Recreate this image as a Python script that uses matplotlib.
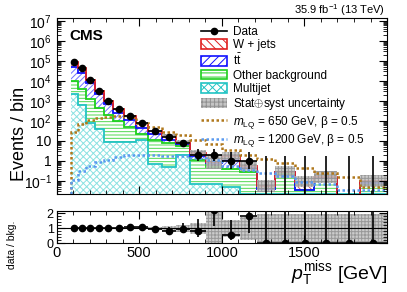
import matplotlib
matplotlib.use("Agg")
import matplotlib.pyplot as plt
import matplotlib.patches as mpatches
from matplotlib.lines import Line2D
from matplotlib.ticker import FixedLocator, MultipleLocator, NullFormatter, FuncFormatter
import numpy as np

plt.rcParams['font.family'] = ['Liberation Sans', 'DejaVu Sans']
plt.rcParams['mathtext.fontset'] = 'custom'
plt.rcParams['mathtext.rm'] = 'Liberation Sans'
plt.rcParams['mathtext.it'] = 'Liberation Sans:italic'
plt.rcParams['mathtext.bf'] = 'Liberation Sans:bold'
plt.rcParams['hatch.linewidth'] = 0.7

# Data
edges = [85, 130, 180, 230, 285, 340, 410, 480, 555, 635, 720, 810, 905, 1000,
         1110, 1215, 1320, 1445, 1560, 1700, 1835, 2000]
data = [86000, 43000, 10800, 3200, 1000, 400, 178, 76, 32, 15, 8, 2, 2, 1, 1,
        0, 0, 0, 0, 0, 0]
multijet = [2300, 600, 80, 38, 9, 9, 9, 11, 0.7, 0.5, 2.0, 0.07, 0.07, 0.05, 0,
            0, 0, 0, 0, 0, 0]
other_bkg = [7700, 3400, 1120, 392, 191, 91, 39, 11, 10.5, 7, 3.3, 1.0, 0.4,
             0.35, 0.29, 0.04, 0.25, 0.035, 0.13, 0, 0.08]
ttbar = [42000, 20000, 6300, 1870, 500, 160, 64, 23, 11, 4, 1.6, 0.7, 0.3,
         0.75, 0.13, 0, 0.01, 0, 0.01, 0, 0]
wjets = [34000, 19000, 3300, 900, 300, 140, 56, 25, 10.6, 6.7, 1.7, 0.7, 0.12,
         0.57, 0.13, 0.015, 0.02, 0.055, 0.01, 0, 0.02]
unc_rel = [0.02, 0.02, 0.02, 0.03, 0.04, 0.05, 0.06, 0.08, 0.12, 0.18, 0.25,
           0.35, 1.2, 0.55, 0.75, 0.95, 0.95, 0.95, 0.95, 0.95, 0.95]
sig650 = [29, 70, 112, 135, 160, 178, 160, 80, 52, 29, 20, 11, 7, 3.3, 2.0,
          1.2, 0.76, 0.45, 0.24, 0.16, 0.047]
sig1200 = [0.11, 0.3, 0.52, 0.83, 1.1, 1.5, 1.85, 2.0, 2.0, 1.8, 1.65, 1.35,
           1.1, 0.52, 0.35, 0.24, 0.18, 0.09, 0.07, 0.035, 0.035]

edges = np.array(edges, float)
centers = 0.5 * (edges[1:] + edges[:-1])
halfw = 0.5 * (edges[1:] - edges[:-1])
data = np.array(data, float)
ymin, ymax = 0.022, 1.4e7

# stacked layers, bottom to top
layers = [
    ('Multijet', np.array(multijet), '#22c4c4', '#8ae2e2', 'xxxxx'),
    ('Other background', np.array(other_bkg), '#1ed01e', '#4fd84f', '-----'),
    (r'$\mathrm{t\bar{t}}$', np.array(ttbar), '#1010ff', '#7070ff', '//////'),
    ('W + jets', np.array(wjets), '#e02020', '#e06060', '\\\\\\\\\\\\'),
]

fig = plt.figure(figsize=(4.07, 2.92), dpi=100)
ax = fig.add_axes([0.139, 0.336, 0.812, 0.602])
axr = fig.add_axes([0.139, 0.167, 0.812, 0.110])

floor = 1e-4
base = np.zeros(len(centers))
tops = []
for name, vals, lc, hc, hatch in layers:
    top = base + vals
    ax.stairs(np.maximum(top, floor), edges, baseline=np.maximum(base, floor), fill=True,
              facecolor='white', edgecolor=hc, hatch=hatch, linewidth=0)
    tops.append((name, top, lc))
    base = top
total = base
for name, top, lc in tops:
    low = ymin * 1.03 if name == 'Multijet' else floor
    ax.stairs(np.maximum(top, low), edges, baseline=None, color=lc, lw=1.3)

# uncertainty band
unc_rel = np.array(unc_rel)
band_lo = total / (1 + unc_rel)
band_hi = total * (1 + unc_rel)
for i in np.where(total > 0)[0]:
    ax.fill_between([edges[i], edges[i + 1]], band_lo[i], band_hi[i],
                    facecolor='#c4c4c4', edgecolor='#909090', hatch='+++++',
                    linewidth=0, alpha=0.85)

# signals
ax.stairs(sig650, edges, baseline=ymin * 1.03, color='#b0781c', lw=1.8, ls=(0, (1, 1)))
ax.stairs(sig1200, edges, baseline=ymin * 1.03, color='#5a9af0', lw=1.8, ls=(0, (1, 1)))

# Poisson error bars
def poisson_err(n):
    lo = np.where(n > 0, n + 0.5 - np.sqrt(n + 0.25), 0)
    hi = np.where(n > 0, n + 0.5 + np.sqrt(n + 0.25), 1.84)
    return n - lo, hi - n

elo, ehi = poisson_err(data)
pos = data > 0
ax.errorbar(centers[pos], data[pos], xerr=halfw[pos], yerr=[elo[pos], ehi[pos]],
            fmt='o', color='black', ms=4.5, lw=1.2, capsize=0)
ax.vlines(centers[~pos], 1e-3, ehi[~pos], color='black', lw=1.2)

ax.set_yscale('log')
ax.set_xlim(0, 2000)
ax.set_ylim(ymin, ymax)
decades = np.arange(-1, 8)
ax.yaxis.set_major_locator(FixedLocator(10.0 ** decades))
minors = [s * 10.0 ** k for k in range(-2, 8) for s in range(2, 10)
          if ymin <= s * 10.0 ** k <= ymax]
ax.yaxis.set_minor_locator(FixedLocator(minors))
ax.yaxis.set_minor_formatter(NullFormatter())

def yfmt(v, p):
    k = int(round(np.log10(v)))
    if k == 0:
        return '1'
    if k == 1:
        return '10'
    return r'$10^{%d}$' % k

ax.yaxis.set_major_formatter(FuncFormatter(yfmt))
ax.xaxis.set_major_locator(MultipleLocator(500))
ax.xaxis.set_minor_locator(MultipleLocator(100))
ax.tick_params(axis='x', labelbottom=False)
for a in (ax, axr):
    a.tick_params(which='both', direction='in', top=True, right=True, labelsize=10)
    a.tick_params(which='major', length=6)
    a.tick_params(which='minor', length=3)

ax.set_ylabel('Events / bin', fontsize=13)
ax.yaxis.set_label_coords(-0.085, 0.34)
ax.text(0.04, 0.9, 'CMS', transform=ax.transAxes, fontsize=11, fontweight='bold',
        va='center', ha='left')
fig.text(0.947, 0.965, r'35.9 fb$^{-1}$ (13 TeV)', fontsize=8, ha='right', va='center')

# legend
handles = [
    Line2D([], [], color='black', marker='o', ms=4.5, lw=1.2),
    mpatches.Patch(facecolor='white', edgecolor='#e02020', hatch='\\\\\\\\', lw=1.2),
    mpatches.Patch(facecolor='white', edgecolor='#1010ff', hatch='////', lw=1.2),
    mpatches.Patch(facecolor='white', edgecolor='#1ed01e', hatch='----', lw=1.2),
    mpatches.Patch(facecolor='white', edgecolor='#22c4c4', hatch='xxxx', lw=1.2),
    mpatches.Patch(facecolor='#c4c4c4', edgecolor='#909090', hatch='++++', lw=0),
    Line2D([], [], color='#b0781c', lw=1.8, ls=(0, (1, 1))),
    Line2D([], [], color='#5a9af0', lw=1.8, ls=(0, (1, 1))),
]
labels = ['Data', 'W + jets', r'$\mathrm{t\bar{t}}$', 'Other background', 'Multijet',
          r'Stat$\oplus$syst uncertainty',
          r'$m_{\mathrm{LQ}}$ = 650 GeV, β = 0.5',
          r'$m_{\mathrm{LQ}}$ = 1200 GeV, β = 0.5']
fig.legend(handles, labels, loc='upper left', bbox_to_anchor=(0.495, 0.911),
           frameon=False, fontsize=8.5, handlelength=2.2, handleheight=0.9,
           labelspacing=0.12, handletextpad=0.45, borderpad=0, borderaxespad=0)

# ratio panel
bkg_safe = np.where(total > 0, total, np.nan)
ratio = data / bkg_safe
r_lo = elo / bkg_safe
r_hi = ehi / bkg_safe
for i in range(len(centers)):
    axr.fill_between([edges[i], edges[i + 1]], max(1 - unc_rel[i], 0), 1 + unc_rel[i],
                     facecolor='#c4c4c4', edgecolor='#909090', hatch='+++++',
                     linewidth=0, alpha=0.85)
axr.axhline(1, color='black', lw=0.8)
axr.errorbar(centers, np.nan_to_num(ratio, nan=0), xerr=halfw,
             yerr=[np.nan_to_num(r_lo, nan=0), np.nan_to_num(r_hi, nan=5)],
             fmt='o', color='black', ms=4.5, lw=1.2, capsize=0)
axr.set_xlim(0, 2000)
axr.set_ylim(0, 2.15)
axr.yaxis.set_major_locator(FixedLocator([0, 1, 2]))
axr.yaxis.set_minor_locator(FixedLocator([0.2, 0.4, 0.6, 0.8, 1.2, 1.4, 1.6, 1.8, 2.0]))
axr.xaxis.set_major_locator(FixedLocator([0, 500, 1000, 1500]))
axr.xaxis.set_minor_locator(MultipleLocator(100))
axr.tick_params(axis='x', which='major', labelsize=10.5, pad=2)
axr.tick_params(axis='y', which='major', labelsize=9, pad=2)
axr.set_ylabel('data / bkg.', fontsize=7.5)
axr.yaxis.set_label_coords(-0.12, -0.05)
axr.set_xlabel(r'$p_{\mathrm{T}}^{\mathrm{miss}}$ [GeV]', fontsize=14, loc='right',
               labelpad=-1)

fig.savefig('out.png', dpi=100)
